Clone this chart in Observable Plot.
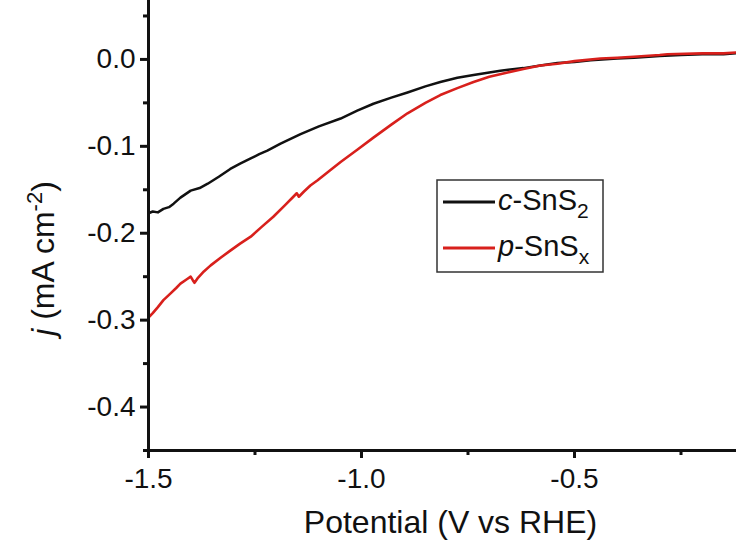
<!DOCTYPE html>
<html>
<head>
<meta charset="utf-8">
<script src="https://cdn.jsdelivr.net/npm/d3@7"></script>
<script src="https://cdn.jsdelivr.net/npm/@observablehq/plot@0.6"></script>
<style>
  html, body { margin: 0; padding: 0; background: #fff; overflow: hidden; }
  #chart { position: relative; width: 736px; height: 540px; }
</style>
</head>
<body>
<div id="chart"></div>
<script>
// ---- tick values ----
const xMajor = [-1.5, -1.0, -0.5];
const xMinor = [-1.25, -0.75, -0.25];
const yMajor = [0.0, -0.1, -0.2, -0.3, -0.4];
const yMinor = [0.05, -0.05, -0.15, -0.25, -0.35, -0.45];

// ---- c-SnS2 (black) ----
const potentialC = [-1.500, -1.490, -1.478, -1.465, -1.452, -1.441, -1.425, -1.401, -1.380, -1.361,
  -1.335, -1.308, -1.285, -1.260, -1.240, -1.221, -1.190, -1.143, -1.100, -1.049,
  -1.010, -0.972, -0.930, -0.892, -0.850, -0.815, -0.775, -0.737, -0.700, -0.674,
  -0.640, -0.620, -0.580, -0.540, -0.500, -0.462, -0.400, -0.360, -0.300, -0.250,
  -0.200, -0.150, -0.120];
const currentC = [-0.177, -0.175, -0.176, -0.172, -0.170, -0.166, -0.159, -0.151, -0.148, -0.143,
  -0.135, -0.126, -0.120, -0.114, -0.109, -0.105, -0.097, -0.086, -0.077, -0.068,
  -0.059, -0.051, -0.044, -0.038, -0.031, -0.026, -0.021, -0.018, -0.015, -0.013,
  -0.011, -0.010, -0.007, -0.004, -0.003, -0.001, 0.001, 0.002, 0.004, 0.005,
  0.006, 0.006, 0.007];

// ---- p-SnSx (red) ----
const potentialP = [-1.500, -1.490, -1.478, -1.465, -1.450, -1.435, -1.425, -1.410, -1.401, -1.396,
  -1.392, -1.385, -1.370, -1.354, -1.330, -1.308, -1.285, -1.260, -1.235, -1.207,
  -1.180, -1.160, -1.152, -1.147, -1.135, -1.120, -1.103, -1.075, -1.049, -1.010,
  -0.972, -0.930, -0.892, -0.850, -0.815, -0.775, -0.737, -0.700, -0.657, -0.620,
  -0.580, -0.540, -0.500, -0.439, -0.400, -0.361, -0.300, -0.282, -0.200, -0.150,
  -0.120];
const currentP = [-0.297, -0.292, -0.285, -0.277, -0.270, -0.263, -0.258, -0.253, -0.250, -0.254,
  -0.257, -0.252, -0.244, -0.237, -0.228, -0.220, -0.212, -0.204, -0.193, -0.181,
  -0.168, -0.158, -0.154, -0.158, -0.152, -0.145, -0.139, -0.128, -0.118, -0.104,
  -0.090, -0.075, -0.062, -0.050, -0.041, -0.033, -0.026, -0.020, -0.015, -0.011,
  -0.007, -0.005, -0.002, 0.001, 0.002, 0.003, 0.005, 0.006, 0.007, 0.007,
  0.008];

const seriesPrefix = ["c", "p"];
const seriesBase = ["-SnS", "-SnS"];
const seriesSub = ["2", "x"];
const seriesColors = ["#111111", "#d8201c"];

const xTitle = ["Potential (V vs RHE)"];
const yTitle = ["j (mA cm-2)"];

const dataC = potentialC.map((x, i) => ({x, y: currentC[i]}));
const dataP = potentialP.map((x, i) => ({x, y: currentP[i]}));

const fmt = d => d.toFixed(1);
const FONT = "'Liberation Sans', Arial, sans-serif";

const svg = Plot.plot({
  width: 736,
  height: 540,
  marginLeft: 148,
  marginRight: 0,
  marginTop: 0,
  marginBottom: 90,
  x: {domain: [-1.5, -0.1197]},
  y: {domain: [-0.45, 0.0678]},
  style: {fontFamily: FONT, fontSize: "28px", color: "#111", background: "white", overflow: "visible"},
  marks: [
    Plot.line(dataC, {x: "x", y: "y", stroke: seriesColors[0], strokeWidth: 2.5}),
    Plot.line(dataP, {x: "x", y: "y", stroke: seriesColors[1], strokeWidth: 2.6}),
    Plot.axisX(xMajor, {tickSize: 8, tickPadding: 10, strokeWidth: 3, tickFormat: fmt, label: null, fontSize: 28}),
    Plot.axisX(xMinor, {tickSize: 5, strokeWidth: 3, text: null, label: null}),
    Plot.axisY(yMajor, {tickSize: 8, tickPadding: 5, strokeWidth: 3, tickFormat: fmt, label: null, fontSize: 28}),
    Plot.axisY(yMinor, {tickSize: 5, strokeWidth: 3, text: null, label: null}),
    Plot.ruleX([-1.5], {stroke: "#111", strokeWidth: 3}),
    Plot.ruleY([-0.45], {stroke: "#111", strokeWidth: 3, x1: -1.5015, x2: -0.1197}),
    Plot.text(xTitle, {text: d => d, frameAnchor: "bottom", dy: 82, dx: 8, fontSize: 32, lineAnchor: "bottom", textAnchor: "middle"}),
    Plot.text(yTitle, {text: d => d, frameAnchor: "left", dx: -95, dy: 33, rotate: -90, fontSize: 32, lineAnchor: "bottom", textAnchor: "middle", className: "ylab"})
  ]
});

document.getElementById("chart").appendChild(svg);

// Rich y-axis title: italic j and superscript -2
const yt = svg.querySelector(".ylab text");
if (yt) {
  const sel = d3.select(yt);
  sel.text(null);
  sel.append("tspan").attr("font-style", "italic").text("j");
  sel.append("tspan").text(" (mA cm");
  sel.append("tspan").attr("font-size", "22px").attr("dy", -12).text("-2");
  sel.append("tspan").attr("dy", 12).text(")");
}

// Legend
const lg = d3.select(svg).append("g").attr("font-family", FONT).attr("text-anchor", "start");
lg.append("rect").attr("x", 437).attr("y", 180).attr("width", 166).attr("height", 92)
  .attr("fill", "white").attr("stroke", "#333").attr("stroke-width", 1.5);
seriesPrefix.forEach((p, i) => {
  const yy = 202 + 46 * i;
  lg.append("line").attr("x1", 443).attr("x2", 495).attr("y1", yy).attr("y2", yy)
    .attr("stroke", seriesColors[i]).attr("stroke-width", 3);
  const t = lg.append("text").attr("x", 498).attr("y", yy + 8).attr("font-size", 29)
    .attr("fill", "#111").attr("text-anchor", "start");
  t.append("tspan").attr("font-style", "italic").text(p);
  t.append("tspan").text(seriesBase[i]);
  t.append("tspan").attr("font-size", 21).attr("dy", 8).text(seriesSub[i]);
});
</script>
</body>
</html>
